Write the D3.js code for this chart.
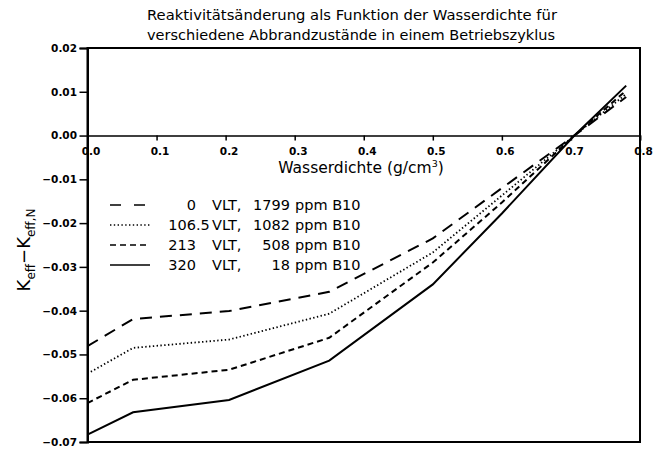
<!DOCTYPE html>
<html>
<head>
<meta charset="utf-8">
<script src="https://cdn.jsdelivr.net/npm/d3@7"></script>
<style>
  body { margin: 0; background: #fff; }
  text { font-family: "DejaVu Sans", sans-serif; fill: #000; }
  .tick text { font-weight: bold; font-size: 10.5px; }
</style>
</head>
<body>
<div id="graph"></div>
<script>
// water density (g/cm3) and reactivity change for each burnup state
const densities = [0, 0.066, 0.205, 0.35, 0.5, 0.6, 0.705, 0.78];
const reactivity0 = [-0.0481, -0.0419, -0.0401, -0.0357, -0.0235, -0.0120, 0, 0.0088];
const reactivity106 = [-0.0544, -0.0485, -0.0466, -0.0407, -0.0267, -0.0137, 0, 0.0095];
const reactivity213 = [-0.0611, -0.0558, -0.0535, -0.0462, -0.0290, -0.0153, 0, 0.0103];
const reactivity320 = [-0.0683, -0.0632, -0.0604, -0.0514, -0.0340, -0.0178, 0, 0.0114];

const legendBurnup = ["0", "106.5", "213", "320"];
const legendBoron = ["1799", "1082", "508", "18"];

const xTicks = [0, 0.1, 0.2, 0.3, 0.4, 0.5, 0.6, 0.7, 0.8];
const yTicks = [0.02, 0.01, 0, -0.01, -0.02, -0.03, -0.04, -0.05, -0.06, -0.07];

const titleLines = ["Reaktivitätsänderung als Funktion der Wasserdichte für",
  "verschiedene Abbrandzustände in einem Betriebszyklus"];

const fullwidth = 656;
const fullheight = 449;
const plotLeft = 87.5, plotRight = 640, plotTop = 48, plotBottom = 442;

const series = [
  {values: reactivity0, dash: "12,8", width: 2},
  {values: reactivity106, dash: "1.4,2.4", width: 1.8},
  {values: reactivity213, dash: "6,4", width: 2},
  {values: reactivity320, dash: null, width: 2}
];

const svg = d3.select("#graph").append("svg")
  .attr("width", fullwidth)
  .attr("height", fullheight);

const x = d3.scaleLinear().domain([0, 0.8]).range([plotLeft, plotRight]);
const y = d3.scaleLinear().domain([-0.07, 0.02]).range([plotBottom, plotTop]);

// title
svg.selectAll("text.title").data(titleLines).enter().append("text")
  .attr("class", "title")
  .attr("x", 147)
  .attr("y", (d, i) => 20 + i * 20)
  .attr("textLength", (d, i) => i == 0 ? 410 : 408)
  .attr("lengthAdjust", "spacingAndGlyphs")
  .style("font-size", "14.5px")
  .text(d => d);

// frame
svg.append("rect")
  .attr("x", plotLeft).attr("y", plotTop)
  .attr("width", plotRight - plotLeft).attr("height", plotBottom - plotTop)
  .attr("fill", "none").attr("stroke", "black").attr("stroke-width", 2);

// y axis
const yAxis = svg.append("g")
  .attr("transform", "translate(" + plotLeft + ",0)")
  .call(d3.axisLeft(y).tickValues(yTicks).tickFormat(d3.format(".2f")).tickSize(8).tickPadding(2.5));
yAxis.select(".domain").attr("stroke-width", 2);
yAxis.selectAll(".tick line").attr("stroke-width", 1.5);

// x axis on the zero line
const xAxis = svg.append("g")
  .attr("transform", "translate(0," + y(0) + ")")
  .call(d3.axisBottom(x).tickValues(xTicks).tickFormat(d3.format(".1f")).tickSize(5).tickPadding(7));
xAxis.select(".domain").attr("stroke-width", 1.6);
xAxis.selectAll(".tick line").attr("stroke-width", 1.5);
xAxis.selectAll(".tick text").attr("dx", 3);

// x label
const xl = svg.append("text")
  .attr("x", 361).attr("y", 173)
  .attr("text-anchor", "middle")
  .style("font-size", "15.5px");
xl.append("tspan").text("Wasserdichte (g/cm");
xl.append("tspan").attr("dy", -6).style("font-size", "9.5px").text("3");
xl.append("tspan").attr("dy", 6).text(")");

// y label
const yl = svg.append("text")
  .attr("transform", "translate(30,250) rotate(-90)")
  .attr("text-anchor", "middle")
  .style("font-size", "18px");
yl.append("tspan").text("K");
yl.append("tspan").attr("dy", 5).style("font-size", "12px").text("eff");
yl.append("tspan").attr("dy", -5).text("−K");
yl.append("tspan").attr("dy", 5).style("font-size", "12px").text("eff,N");

// curves
const line = d3.line()
  .x((d, i) => x(densities[i]))
  .y(d => y(d));

svg.selectAll("path.curve").data(series).enter().append("path")
  .attr("class", "curve")
  .attr("d", d => line(d.values))
  .attr("fill", "none")
  .attr("stroke", "black")
  .attr("stroke-width", d => d.width)
  .attr("stroke-dasharray", d => d.dash);

// legend
const legend = svg.append("g").attr("class", "legend");
series.forEach(function (s, k) {
  var ly = 205 + k * 20;
  legend.append("line")
    .attr("x1", 110).attr("x2", 150)
    .attr("y1", ly).attr("y2", ly)
    .attr("stroke", "black")
    .attr("stroke-width", 1.5)
    .attr("stroke-dasharray", k == 0 ? "11,13" : s.dash);
  var parts = legendBurnup[k].split(".");
  legend.append("text").attr("x", 196).attr("y", ly + 5)
    .attr("text-anchor", "end").style("font-size", "14.5px").text(parts[0]);
  if (parts.length > 1) {
    legend.append("text").attr("x", 196).attr("y", ly + 5)
      .style("font-size", "14.5px").text("." + parts[1]);
  }
  legend.append("text").attr("x", 212).attr("y", ly + 5)
    .style("font-size", "14.5px").text("VLT,");
  legend.append("text").attr("x", 290).attr("y", ly + 5)
    .attr("text-anchor", "end").style("font-size", "14.5px").text(legendBoron[k]);
  legend.append("text").attr("x", 295).attr("y", ly + 5)
    .style("font-size", "14.5px").text("ppm B10");
});
</script>
</body>
</html>
